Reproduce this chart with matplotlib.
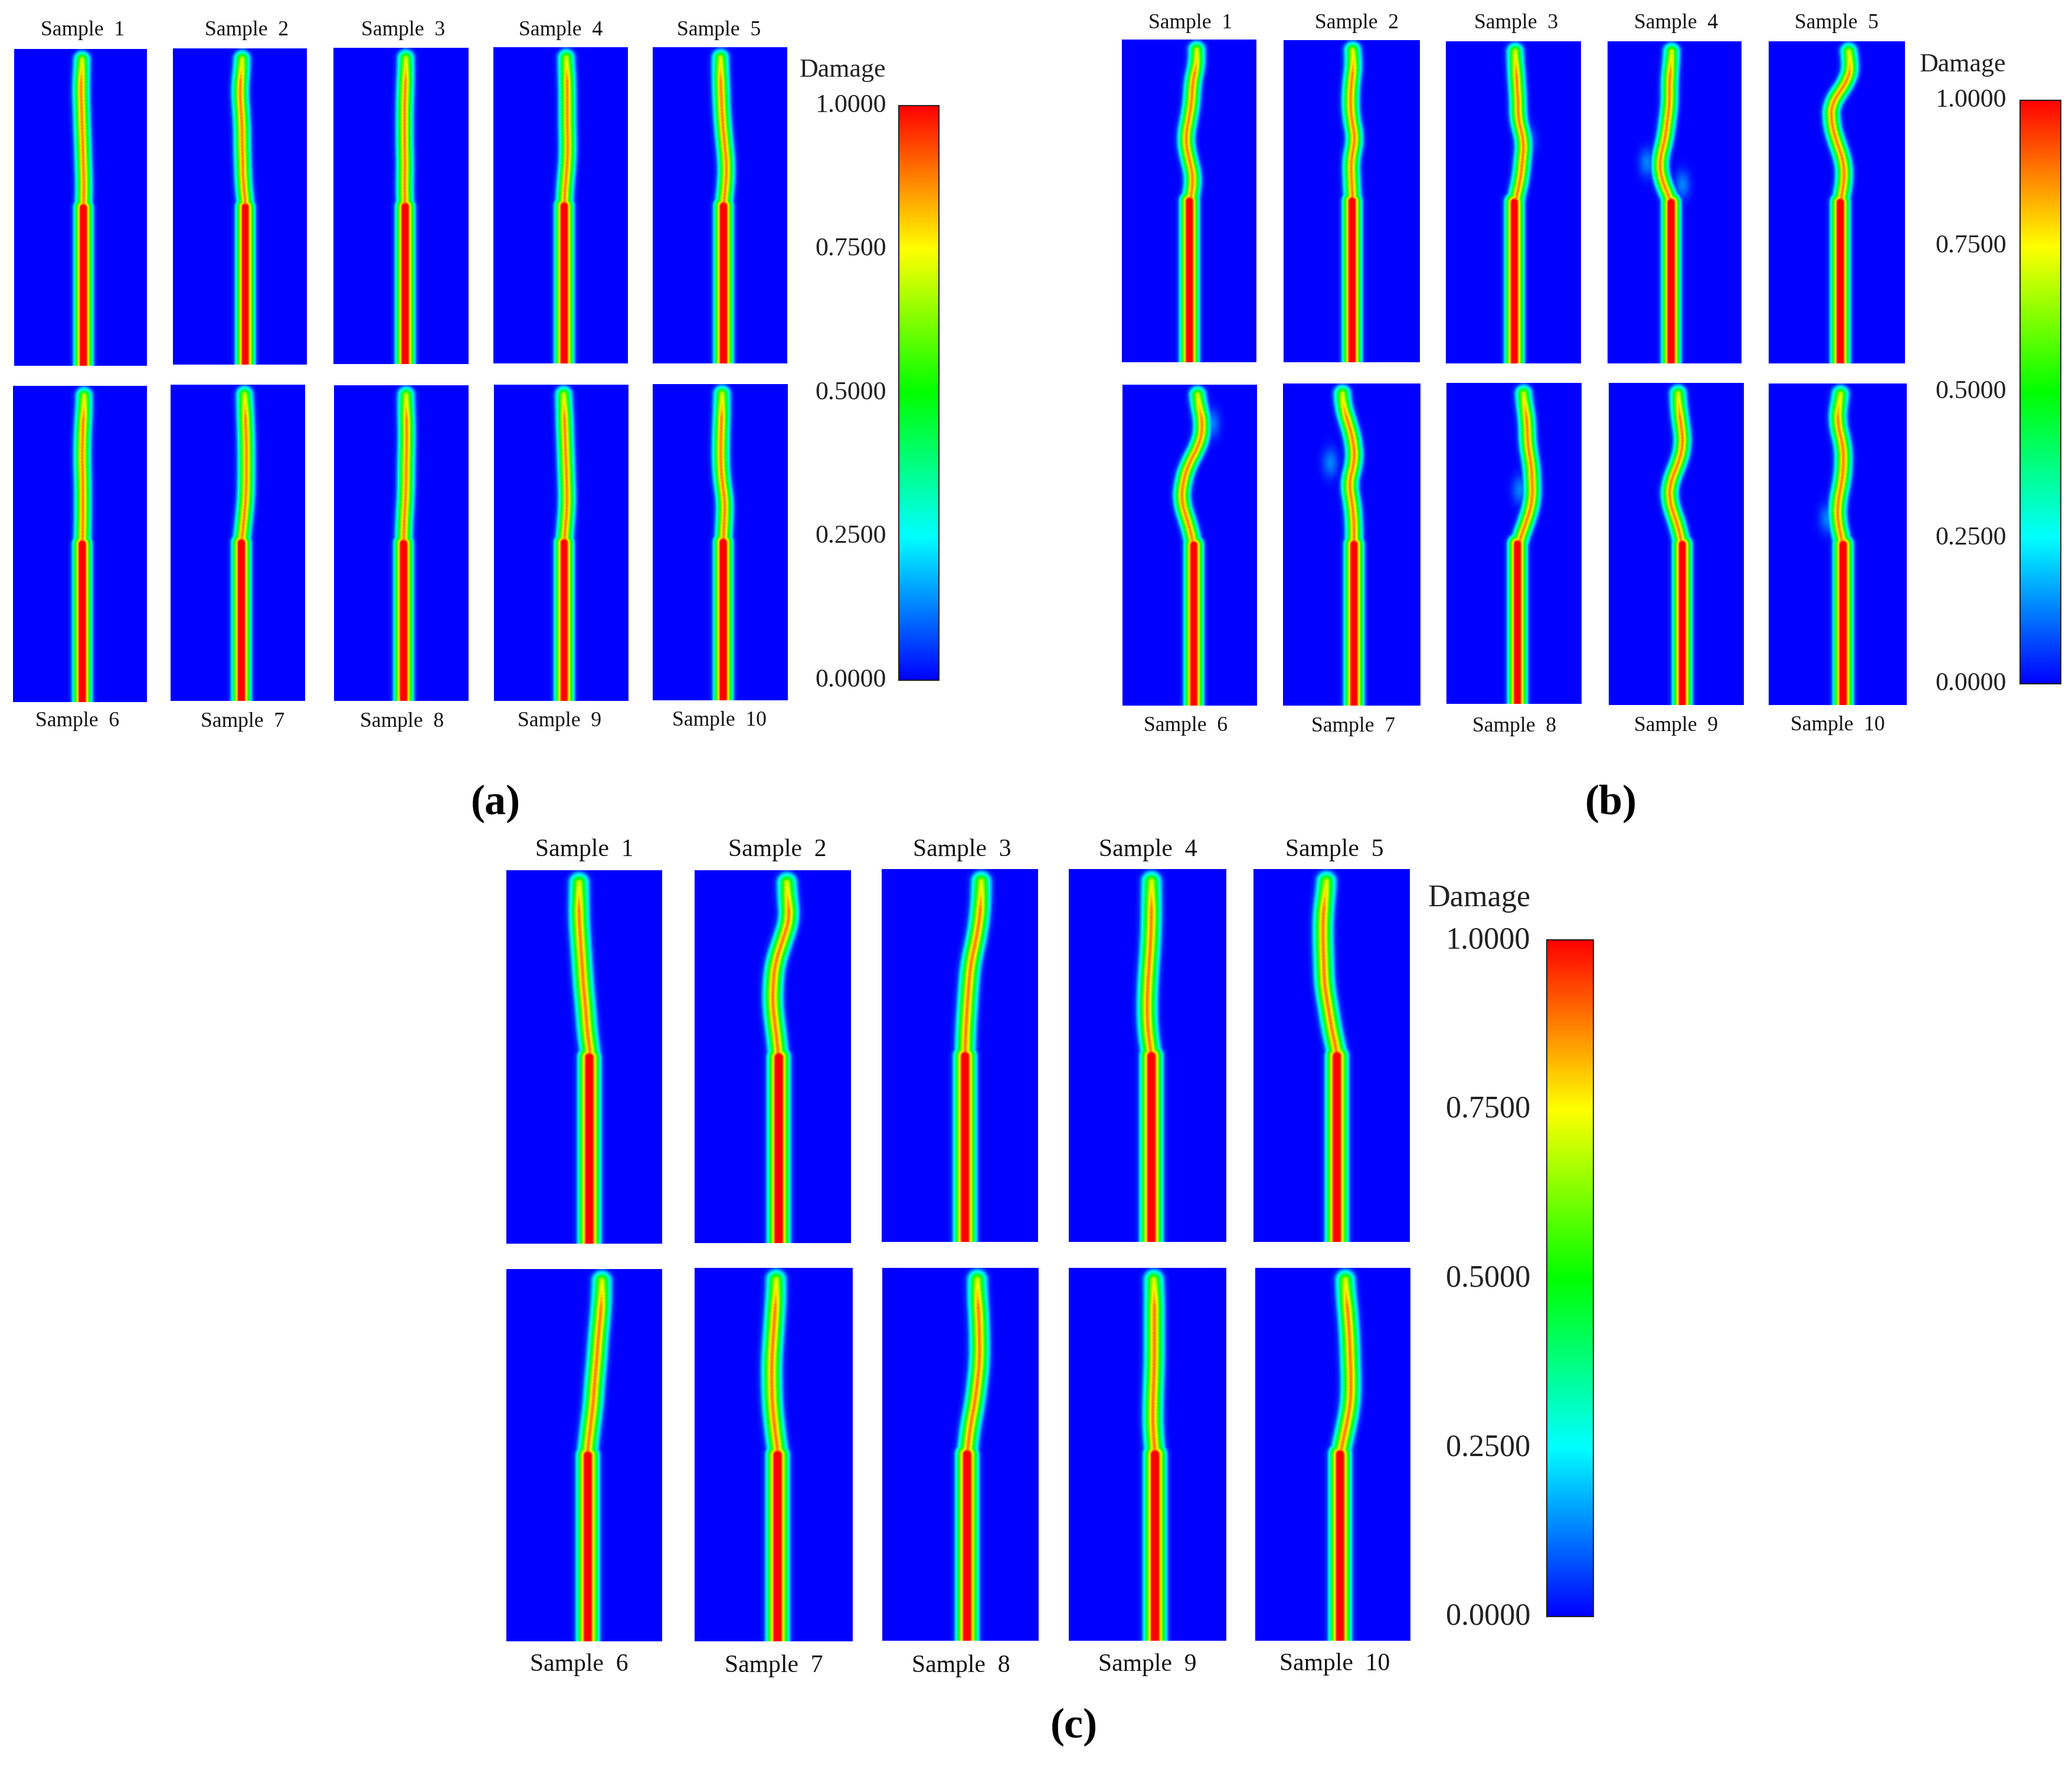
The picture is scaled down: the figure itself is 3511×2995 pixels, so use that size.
import numpy as np
import matplotlib
matplotlib.use("Agg")
import matplotlib.pyplot as plt
from matplotlib.colors import LinearSegmentedColormap, Normalize
from matplotlib.cm import ScalarMappable
from matplotlib.transforms import ScaledTranslation

plt.rcParams['font.family'] = ['Liberation Serif', 'DejaVu Serif']
W, H = 3512, 2995
DPI = 100

# ---- data: crack x position at fixed heights (fraction of sample height), then the notch x
CRACK_HEIGHTS = [0.033, 0.07, 0.13, 0.19, 0.25, 0.31, 0.37, 0.43, 0.502]
COLORBAR_TICKS = [0.0, 0.25, 0.5, 0.75, 1.0]
COLORBAR_TICK_LABELS = ['0.0000', '0.2500', '0.5000', '0.7500', '1.0000']
SAMPLE_NAMES = ['Sample  1', 'Sample  2', 'Sample  3', 'Sample  4', 'Sample  5',
                'Sample  6', 'Sample  7', 'Sample  8', 'Sample  9', 'Sample  10']

# damage across a crack / across the notch edge
CRACK_DIST = [0, 1.5, 4, 8, 13, 18, 24]
CRACK_DAMAGE = [0.92, 0.85, 0.75, 0.5, 0.25, 0.04, 0.0]
NOTCH_DIST = [0, 5, 6, 8, 12, 16, 20, 26]
NOTCH_DAMAGE = [1.0, 1.0, 0.88, 0.75, 0.5, 0.25, 0.04, 0.0]

CRACKS_A = [
    [133,132,131,132,133,134,135,136,135],
    [390,389,386,388,390,390,391,392,396],
    [654,654,653,652,652,652,653,652,653],
    [911,912,913,913,913,914,913,910,908],
    [1160,1160,1161,1162,1164,1167,1170,1169,1165],
    [136,136,134,133,133,134,134,134,133],
    [394,395,396,397,397,397,396,393,389],
    [654,654,655,655,654,654,653,651,650],
    [907,908,909,910,911,912,913,911,908],
    [1163,1163,1162,1161,1161,1163,1168,1167,1165],
]
NOTCH_A = [135,395,653,908,1165,133,389,650,908,1165]

CRACKS_B = [
    [167,169,161,160,155,149,155,163,157],
    [417,420,416,414,416,423,415,416,418],
    [677,678,680,682,682,692,689,686,677],
    [928,927,924,925,921,917,908,911,928],
    [1209,1215,1208,1183,1182,1190,1202,1204,1197],
    [168,172,178,172,154,145,143,154,163],
    [401,402,412,420,421,411,417,420,420],
    [690,693,697,697,703,705,705,696,682],
    [937,938,942,946,938,924,923,935,944],
    [1198,1193,1192,1201,1202,1199,1192,1192,1201],
]
NOTCH_B = [156,417,676,927,1197,163,420,681,944,1201]

CRACKS_C = [
    [146,146,146,148,150,152,155,157,162],
    [429,430,433,423,413,410,410,414,418],
    [694,694,692,687,680,677,675,673,672],
    [926,926,926,925,923,921,920,921,926],
    [1165,1163,1160,1160,1161,1162,1167,1172,1180],
    [177,177,175,172,170,167,165,161,157],
    [414,414,412,410,408,408,409,412,417],
    [689,689,691,692,692,689,685,679,675],
    [929,930,930,930,930,929,928,928,931],
    [1190,1191,1194,1196,1197,1198,1197,1191,1183],
]
NOTCH_C = [160,418,672,926,1179,158,416,675,931,1183]

# faint side patches seen in panel (b): sample index, x, y
PATCHES_B = [(3,888,310),(3,945,352),(2,698,268),(5,192,805),(6,382,880),(7,685,930),(9,1176,985)]

# ---- layout: every number below is in the crop frame of that panel
BOXES_A = [(23,236,93,694),(278,493,92,692),(537,754,91,691),(794,1010,90,690),(1051,1267,90,690),
           (21,236,732,1333),(275,491,730,1331),(538,754,731,1331),(795,1011,730,1331),(1051,1268,729,1330)]
BOXES_B = [(48,263,75,688),(307,524,76,688),(566,782,78,690),(825,1039,78,690),(1082,1299,78,690),
           (49,264,730,1340),(306,525,728,1340),(567,783,727,1336),(826,1042,727,1338),(1082,1302,728,1338)]
BOXES_C = [(47,259,74,696),(303,516,74,695),(558,771,72,693),(813,1027,72,693),(1065,1278,72,693),
           (47,259,738,1359),(303,518,736,1359),(559,772,736,1358),(813,1027,736,1358),(1067,1278,736,1358)]

LABELS_A = [(133,55),(397,55),(649,55),(903,55),(1158,55),(125,1366),(391,1368),(647,1368),(901,1366),(1158,1365)]
LABELS_B = [(158,42),(424,42),(678,42),(934,42),(1191,42),(150,1375),(418,1377),(676,1377),(934,1375),(1192,1374)]
LABELS_C = [(153,38),(416,38),(668,38),(921,38),(1175,38),(146,1395),(411,1397),(666,1397),(920,1395),(1175,1394)]

PANELS = [
    dict(name='(a)', x0=0, y0=0, sx=1650/1568, sy=1400/1568, cracks=CRACKS_A, notch=NOTCH_A, boxes=BOXES_A,
         labels=LABELS_A, patches=[], cbar=(1447,1512,200,1291), text_right=1427, damage_y=130,
         fs_sample=25.6, fs_cbar=31.7, letter=(840,1362)),
    dict(name='(b)', x0=1850, y0=0, sx=1662/1568, sy=1400/1568, cracks=CRACKS_B, notch=NOTCH_B, boxes=BOXES_B,
         labels=LABELS_B, patches=PATCHES_B, cbar=(1484,1549,190,1298), text_right=1462, damage_y=120,
         fs_sample=25.6, fs_cbar=31.7, letter=(2730,1362)),
    dict(name='(c)', x0=800, y0=1400, sx=1950/1568, sy=1595/1568, cracks=CRACKS_C, notch=NOTCH_C, boxes=BOXES_C,
         labels=LABELS_C, patches=[], cbar=(1464,1528,190,1317), text_right=1442, damage_y=118,
         fs_sample=30, fs_cbar=37.5, letter=(1820,2927)),
]

TEXT_SHIFT = 2.5   # px downward for sample names and "Damage"
TICK_SHIFT = 4.5   # px upward for colour bar numbers

damage_cmap = LinearSegmentedColormap.from_list(
    'damage', [(0, (0,0,1)), (.25, (0,1,1)), (.5, (0,1,0)), (.75, (1,1,0)), (1, (1,0,0))], N=512)


def field(bw, bh, crack_x, crack_y, notch_x, patches, s):
    """Damage field on a half-resolution grid, all lengths in full-size pixels."""
    xs = np.arange(0, bw, 2.0) + 1
    ys = np.arange(0, bh, 2.0) + 1
    X, Y = np.meshgrid(xs, ys)
    ty = np.arange(crack_y[0], crack_y[-1] + 1, 1.0)
    tx = np.interp(ty, crack_y, crack_x)
    k = 20
    pad = np.r_[np.full(k, tx[0]), tx, np.full(k, tx[-1])]
    tx = np.convolve(pad, np.ones(2*k+1)/(2*k+1), mode='valid')
    tx = tx[::3]; ty = ty[::3]
    d2 = np.full(X.shape, np.inf, dtype=float)
    for px, py in zip(tx, ty):
        d2 = np.minimum(d2, (X-px)**2 + (Y-py)**2)
    d = np.sqrt(d2)
    amp = 0.82 + 0.18*np.clip((Y-crack_y[0])/(40*s), 0, 1)
    D = amp*np.interp(d/s, CRACK_DIST, CRACK_DAMAGE)
    tip = crack_y[-1]
    dx = np.maximum(np.abs(X-notch_x), 0)
    dy = np.maximum(tip - Y, 0)
    Dn = np.interp(np.hypot(dx, dy)/s, NOTCH_DIST, NOTCH_DAMAGE)
    D = np.maximum(D, Dn)
    for (px, py) in patches:
        D = np.maximum(D, 0.13*np.exp(-(((X-px)/(13*s))**2 + ((Y-py)/(24*s))**2)))
    return D


fig = plt.figure(figsize=(W/DPI, H/DPI), dpi=DPI, facecolor='white')


def add_ax(l, r, t, b):
    return fig.add_axes([l/W, 1-b/H, (r-l)/W, (b-t)/H])


for P in PANELS:
    fx = lambda v: P['x0'] + v*P['sx']
    fy = lambda v: P['y0'] + v*P['sy']
    for i, (l, r, t, b) in enumerate(P['boxes']):
        L, R, T, B = fx(l), fx(r), fy(t), fy(b)
        bw, bh = R-L, B-T
        cx = (fx(np.array(P['cracks'][i])) - L)
        cy = np.array(CRACK_HEIGHTS)*bh
        nx = fx(P['notch'][i]) - L
        pts = [(fx(px)-L, fy(py)-T) for (j, px, py) in P['patches'] if j == i]
        D = field(bw, bh, cx, cy, nx, pts, bw/226)
        ax = add_ax(L, R, T, B)
        ax.imshow(D, cmap=damage_cmap, vmin=0, vmax=1, extent=(0, bw, bh, 0),
                  aspect='auto', interpolation='bilinear')
        ax.axis('off')
        lx, ly = P['labels'][i]
        fig.text(fx(lx)/W, 1-(fy(ly)+TEXT_SHIFT)/H, SAMPLE_NAMES[i], fontsize=P['fs_sample'],
                 ha='center', va='center', color='#111111')
    # colour bar
    cl, cr, ct, cb = P['cbar']
    cax = add_ax(fx(cl), fx(cr), fy(ct), fy(cb))
    sm = ScalarMappable(norm=Normalize(0, 1), cmap=damage_cmap)
    cbar = fig.colorbar(sm, cax=cax, orientation='vertical', ticklocation='left')
    cbar.set_ticks(COLORBAR_TICKS)
    cbar.set_ticklabels(COLORBAR_TICK_LABELS)
    cbar.ax.tick_params(length=0, labelsize=P['fs_cbar'], labelcolor='#222222',
                        pad=(fx(cl)-fx(P['text_right']))*72/DPI)
    offset = ScaledTranslation(0, TICK_SHIFT/DPI, fig.dpi_scale_trans)
    for lab in cbar.ax.get_yticklabels():
        lab.set_transform(lab.get_transform() + offset)
    cbar.outline.set_linewidth(1.5)
    cbar.outline.set_edgecolor('#222222')
    fig.text(fx(P['text_right'])/W, 1-(fy(P['damage_y'])+TEXT_SHIFT)/H, 'Damage', fontsize=P['fs_cbar'],
             ha='right', va='center', color='#222222')
    fig.text(P['letter'][0]/W, 1-P['letter'][1]/H, P['name'], fontsize=52, fontweight='bold',
             ha='center', va='center', color='black')

fig.savefig('out.png', dpi=DPI, facecolor='white')
